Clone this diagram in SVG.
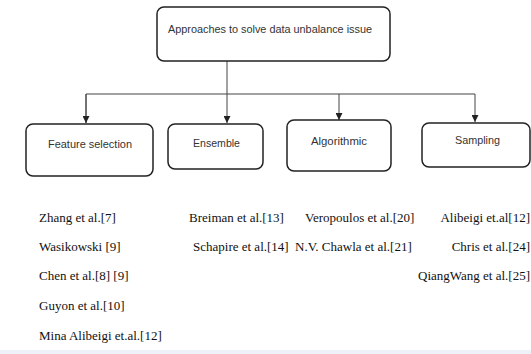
<svg xmlns="http://www.w3.org/2000/svg" width="531" height="354" viewBox="0 0 531 354">
<style>
.box{fill:#fff;stroke:#222;stroke-width:1.5}
.lbl{font-family:"Liberation Sans",Arial,sans-serif;font-size:11px;fill:#333}
.ref{font-family:"Liberation Serif","Times New Roman",serif;font-size:13px;fill:#111}
.ln{fill:none;stroke:#444;stroke-width:1}
</style>
<defs>
<marker id="ah" viewBox="0 0 10 10" refX="10" refY="5" markerWidth="7" markerHeight="7" markerUnits="userSpaceOnUse" orient="auto">
<path d="M0,0 L10,5 L0,10 z" fill="#222"/>
</marker>
</defs>
<rect x="0" y="0" width="531" height="354" fill="#fff"/>
<rect x="0" y="350" width="531" height="4" fill="#eef2f8"/>
<g id="connectors">
<line class="ln" x1="227" y1="61" x2="227" y2="123" marker-end="url(#ah)"/>
<polyline class="ln" points="86,123 86,94 475,94 475,122" marker-end="url(#ah)"/>
<line class="ln" x1="86" y1="94" x2="86" y2="123" marker-end="url(#ah)"/>
<line class="ln" x1="339" y1="94" x2="339" y2="120" marker-end="url(#ah)"/>
</g>
<g id="root">
<rect class="box" x="157" y="7" width="233" height="54" rx="7"/>
<text class="lbl" x="168" y="33" textLength="204" lengthAdjust="spacingAndGlyphs">Approaches to solve data unbalance issue</text>
</g>
<g id="feature">
<rect class="box" x="26" y="124" width="127" height="52" rx="7"/>
<text class="lbl" x="48" y="148" textLength="84" lengthAdjust="spacingAndGlyphs">Feature selection</text>
</g>
<g id="ensemble">
<rect class="box" x="168" y="124" width="95" height="45" rx="7"/>
<text class="lbl" x="193" y="147" textLength="47" lengthAdjust="spacingAndGlyphs">Ensemble</text>
</g>
<g id="algorithmic">
<rect class="box" x="287" y="120" width="104" height="51" rx="7"/>
<text class="lbl" x="311" y="145" textLength="56" lengthAdjust="spacingAndGlyphs">Algorithmic</text>
</g>
<g id="sampling">
<rect class="box" x="422" y="123" width="108" height="44" rx="7"/>
<text class="lbl" x="455" y="144" textLength="45" lengthAdjust="spacingAndGlyphs">Sampling</text>
</g>
<g id="refs-feature">
<text class="ref" x="39" y="222">Zhang et al.[7]</text>
<text class="ref" x="39" y="251">Wasikowski [9]</text>
<text class="ref" x="39" y="280">Chen et al.[8] [9]</text>
<text class="ref" x="39" y="310">Guyon et al.[10]</text>
<text class="ref" x="39" y="340">Mina Alibeigi et.al.[12]</text>
</g>
<g id="refs-ensemble">
<text class="ref" x="189" y="222">Breiman et al.[13]</text>
<text class="ref" x="193" y="251">Schapire et al.[14]</text>
</g>
<g id="refs-algorithmic">
<text class="ref" x="305" y="222">Veropoulos et al.[20]</text>
<text class="ref" x="295" y="251">N.V. Chawla et al.[21]</text>
</g>
<g id="refs-sampling">
<text class="ref" x="530" y="222" text-anchor="end">Alibeigi et.al[12]</text>
<text class="ref" x="530" y="251" text-anchor="end">Chris et al.[24]</text>
<text class="ref" x="530" y="280" text-anchor="end">QiangWang et al.[25]</text>
</g>
</svg>
